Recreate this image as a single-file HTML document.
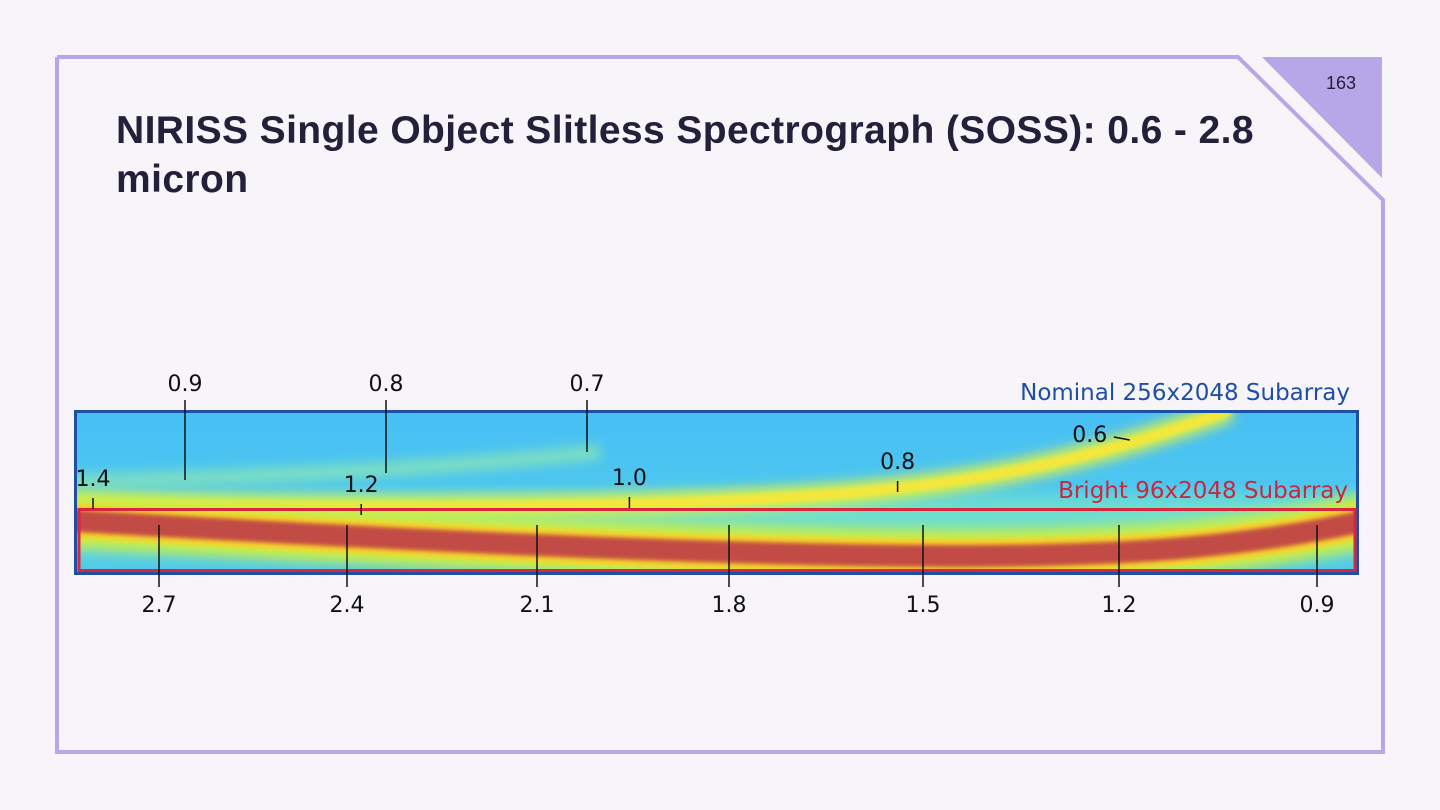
<!DOCTYPE html>
<html><head><meta charset="utf-8"><style>
html,body{margin:0;padding:0;background:#f7f5f9;}
body{width:1440px;height:810px;position:relative;overflow:hidden;font-family:"Liberation Sans",sans-serif;}
.title{position:absolute;left:116px;top:106px;font-size:39px;font-weight:bold;color:#24203a;line-height:49px;width:1250px;letter-spacing:0.4px;}
</style></head><body>
<svg width="1440" height="810" style="position:absolute;left:0;top:0">
<polyline points="57,57 1238,57 1383,200 1383,752 57,752 57,57" fill="none" stroke="#b7a6e8" stroke-width="4"/>
<polygon points="1262,57 1382,57 1382,178" fill="#b7a6e8"/>
<text x="1341" y="89" font-size="18" text-anchor="middle" fill="#24203a" font-family="Liberation Sans">163</text>
</svg>
<div class="title">NIRISS Single Object Slitless Spectrograph (SOSS): 0.6 - 2.8<br>micron</div>
<svg id="chart" width="1440" height="810" style="position:absolute;left:0;top:0" font-family="DejaVu Sans, sans-serif">
<defs>
<linearGradient id="bg" x1="0" y1="0" x2="0" y2="1">
<stop offset="0" stop-color="#48bff5"/><stop offset="0.45" stop-color="#4cc6f0"/><stop offset="0.6" stop-color="#6fe0cf"/><stop offset="0.8" stop-color="#66dad6"/><stop offset="1" stop-color="#4fc8ec"/>
</linearGradient>
<filter id="b1" x="-10%" y="-200%" width="120%" height="500%"><feGaussianBlur stdDeviation="6"/></filter>
<filter id="b2" x="-10%" y="-200%" width="120%" height="500%"><feGaussianBlur stdDeviation="2"/></filter>
<clipPath id="clip"><rect x="76" y="412" width="1281" height="160"/></clipPath>
</defs>
<rect x="76" y="412" width="1281" height="160" fill="url(#bg)"/>
<g clip-path="url(#clip)">
<path d="M60,482 C250,478 450,468 600,452" stroke="#8fe8b0" stroke-width="14" fill="none" filter="url(#b1)" opacity="0.8"/>
<path d="M60,505 C400,508 700,510 900,488 C1020,475 1120,450 1230,410" stroke="#d9f04a" stroke-width="22" fill="none" filter="url(#b1)"/>
<path d="M60,505 C400,508 700,510 900,488 C1020,475 1120,450 1230,410" stroke="#f6e63a" stroke-width="9" fill="none" filter="url(#b2)"/>
<path d="M60,520 C400,540 700,555 950,556 C1150,556 1250,545 1370,520" stroke="#c8ee4a" stroke-width="54" fill="none" filter="url(#b1)"/>
<path d="M60,520 C400,540 700,555 950,556 C1150,556 1250,545 1370,520" stroke="#f7d22a" stroke-width="34" fill="none" filter="url(#b2)"/>
<path d="M60,520 C400,540 700,555 950,556 C1150,556 1250,545 1370,520" stroke="#c24c44" stroke-width="22" fill="none" filter="url(#b2)"/>
</g>
<rect x="75.5" y="411.5" width="1282" height="162" fill="none" stroke="#1f4ea6" stroke-width="3"/>
<rect x="79" y="509.5" width="1276" height="61" fill="none" stroke="#d9263d" stroke-width="3"/>
<text x="1350" y="400" font-size="23" fill="#1f4ea6" text-anchor="end">Nominal 256x2048 Subarray</text>
<text x="1348" y="498" font-size="23" fill="#c8283f" text-anchor="end">Bright 96x2048 Subarray</text>
<g id="ticks"></g>
</svg>
<script>
const order1Labels=[2.7,2.4,2.1,1.8,1.5,1.2,0.9];
const order2Labels=[1.4,1.2,1.0,0.8,0.6];
const order3Labels=[0.9,0.8,0.7];
const ns="http://www.w3.org/2000/svg";
const g=document.getElementById('ticks');
const x1=w=>{const d=(2.7-w)/0.3;return 159+187*d+d*d;};
const x2=w=>93+(1.4-w)*1341-(w<0.7?76:0);
const x3=w=>185+(0.9-w)*2010;
function line(xa,ya,xb,yb,name){const l=document.createElementNS(ns,'line');l.setAttribute('x1',xa);l.setAttribute('x2',xb);l.setAttribute('y1',ya);l.setAttribute('y2',yb);l.setAttribute('stroke','#111');l.setAttribute('stroke-width','1.5');


g.appendChild(l);}
function txt(x,y,s,name){const t=document.createElementNS(ns,'text');t.setAttribute('x',x);t.setAttribute('y',y);t.setAttribute('font-size','22');t.setAttribute('text-anchor','middle');t.setAttribute('fill','#111');t.textContent=s;


g.appendChild(t);}
order1Labels.forEach(w=>{const x=x1(w);line(x,525,x,587,'order1-tick');txt(x,612,w.toFixed(1),'order1-label');});
order2Labels.forEach(w=>{const x=x2(w);
const y=w==1.4?486:w==1.2?492:w==1.0?485:w==0.8?469:442;
if(w<0.7){line(x+24,437,x+40,440,'order2-tick');}else{line(x,y+12,x,y+23,'order2-tick');}
txt(x,y,w.toFixed(1),'order2-label');});
order3Labels.forEach(w=>{const x=x3(w);const yb=w==0.9?480:w==0.8?473:452;line(x,400,x,yb,'order3-tick');txt(x,391,w.toFixed(1),'order3-label');});
</script>
</body></html>
